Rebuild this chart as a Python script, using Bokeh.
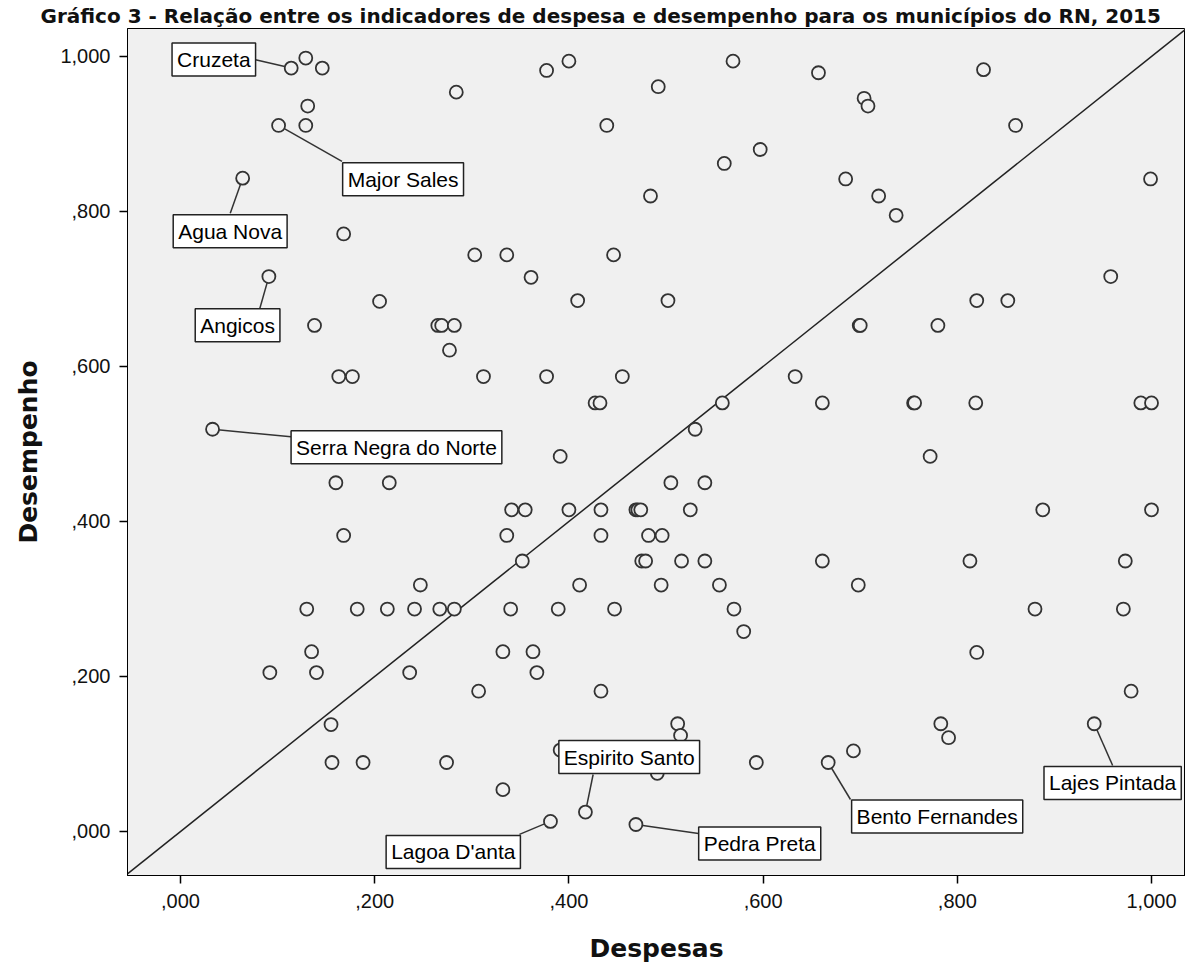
from bokeh.plotting import figure
from bokeh.models import Range1d, FixedTicker, Label
from bokeh.embed import file_html
from bokeh.resources import INLINE

# ---------------- data ----------------
title_text = "Gráfico 3 - Relação entre os indicadores de despesa e desempenho para os municípios do RN, 2015"
x_title = "Despesas"
y_title = "Desempenho"

tick_values = [0.0, 0.2, 0.4, 0.6, 0.8, 1.0]
tick_labels = [",000", ",200", ",400", ",600", ",800", "1,000"]

# unlabeled municipalities
despesas = [
    0.129, 0.146, 0.284, 0.131, 0.129, 0.168, 0.303, 0.336, 0.205, 0.138,
    0.265, 0.269, 0.282, 0.277, 0.163, 0.177, 0.312, 0.160, 0.215, 0.341,
    0.355, 0.168, 0.336, 0.352, 0.247, 0.130, 0.182, 0.213, 0.241, 0.267,
    0.282, 0.340, 0.135, 0.332, 0.092, 0.140, 0.236, 0.307, 0.155, 0.156,
    0.188, 0.274, 0.332,
    0.377, 0.400, 0.569, 0.657, 0.704, 0.708, 0.492, 0.439, 0.597, 0.560,
    0.685, 0.484, 0.719, 0.737, 0.446, 0.361, 0.409, 0.502, 0.699, 0.700,
    0.377, 0.455, 0.633, 0.427, 0.432, 0.558, 0.661, 0.530, 0.391, 0.505,
    0.540, 0.400, 0.433, 0.469, 0.471, 0.474, 0.525, 0.433, 0.482, 0.496,
    0.475, 0.479, 0.516, 0.540, 0.661, 0.411, 0.495, 0.555, 0.698, 0.389,
    0.447, 0.570, 0.580, 0.363, 0.367, 0.433, 0.512, 0.515, 0.391, 0.491,
    0.593, 0.693,
    0.827, 0.860, 0.999, 0.958, 0.820, 0.852, 0.780, 0.755, 0.756, 0.819,
    0.989, 1.000, 0.772, 0.888, 1.000, 0.813, 0.973, 0.880, 0.971, 0.820,
    0.979, 0.783, 0.791,
]
desempenho = [
    0.998, 0.985, 0.954, 0.936, 0.911, 0.771, 0.744, 0.744, 0.684, 0.653,
    0.653, 0.653, 0.653, 0.621, 0.587, 0.587, 0.587, 0.450, 0.450, 0.415,
    0.415, 0.382, 0.382, 0.349, 0.318, 0.287, 0.287, 0.287, 0.287, 0.287,
    0.287, 0.287, 0.232, 0.232, 0.205, 0.205, 0.205, 0.181, 0.138, 0.089,
    0.089, 0.089, 0.054,
    0.982, 0.994, 0.994, 0.979, 0.946, 0.936, 0.961, 0.911, 0.880, 0.862,
    0.842, 0.820, 0.820, 0.795, 0.744, 0.715, 0.685, 0.685, 0.653, 0.653,
    0.587, 0.587, 0.587, 0.553, 0.553, 0.553, 0.553, 0.519, 0.484, 0.450,
    0.450, 0.415, 0.415, 0.415, 0.415, 0.415, 0.415, 0.382, 0.382, 0.382,
    0.349, 0.349, 0.349, 0.349, 0.349, 0.318, 0.318, 0.318, 0.318, 0.287,
    0.287, 0.287, 0.258, 0.232, 0.205, 0.181, 0.139, 0.124, 0.105, 0.075,
    0.089, 0.104,
    0.983, 0.911, 0.842, 0.716, 0.685, 0.685, 0.653, 0.553, 0.553, 0.553,
    0.553, 0.553, 0.484, 0.415, 0.415, 0.349, 0.349, 0.287, 0.287, 0.231,
    0.181, 0.139, 0.121,
]

# labeled municipalities
label_names = ["Cruzeta", "Major Sales", "Agua Nova", "Angicos", "Serra Negra do Norte",
               "Espirito Santo", "Lagoa D'anta", "Pedra Preta", "Bento Fernandes", "Lajes Pintada"]
label_despesas = [0.114, 0.101, 0.064, 0.091, 0.033, 0.417, 0.381, 0.469, 0.667, 0.941]
label_desempenho = [0.985, 0.911, 0.843, 0.716, 0.519, 0.025, 0.013, 0.009, 0.089, 0.139]

# reference line y = x
diag = [-0.1, 1.1]

# ---------------- styling / layout ----------------
PX_X = 971.0   # pixels per unit on x
PX_Y = 775.0   # pixels per unit on y
FRAME_W = 1058
FRAME_H = 847
X0 = -0.0546
Y0 = -0.0568

# label box centre offsets and leader end offsets, in pixels (right, down)
box_dx = [-77.4, 124.5, -12.5, -31.3, 183.9, 43.8, -97.2, 123.8, 109.0, 18.4]
box_dy = [-8.5, 53.9, 53.0, 48.7, 18.0, -55.1, 30.5, 19.0, 54.0, 59.2]
lead_dx = [-35.7, 63.4, -12.4, -9.0, 78.4, 7.7, -31.0, 64.3, 22.3, 18.4]
lead_dy = [-8.3, 36.0, 35.0, 31.7, 7.6, -37.6, 13.0, 9.3, 37.0, 41.7]

BG = "#f0f0f0"
INK = "#333333"

p = figure(frame_width=FRAME_W, frame_height=FRAME_H,
           x_range=Range1d(X0, X0 + FRAME_W / PX_X),
           y_range=Range1d(Y0, Y0 + FRAME_H / PX_Y),
           output_backend="svg", toolbar_location=None, tools="",
           min_border_left=127, min_border_right=0, min_border_top=24,
           min_border_bottom=80)

p.title.text = title_text
p.title.text_font = "DejaVu Sans"
p.title.text_font_style = "bold"
p.title.text_font_size = "20px"
p.title.align = "left"
p.title.offset = -87
p.title.standoff = 2
p.title.text_color = "#111111"

p.background_fill_color = BG
p.border_fill_color = "white"
p.outline_line_color = "black"
p.outline_line_width = 1
p.grid.visible = False

for ax in (p.xaxis[0], p.yaxis[0]):
    ax.ticker = FixedTicker(ticks=tick_values)
    ax.major_label_overrides = dict(zip(tick_values, tick_labels))
    ax.major_label_text_font = "Liberation Sans"
    ax.major_label_text_font_size = "20px"
    ax.major_label_text_color = "#111111"
    ax.major_tick_in = 0
    ax.major_tick_out = 8
    ax.major_tick_line_width = 1.5
    ax.major_tick_line_color = "black"
    ax.minor_tick_line_color = None
    ax.axis_line_color = "black"
    ax.axis_line_width = 1
    ax.axis_label_text_font = "DejaVu Sans"
    ax.axis_label_text_font_style = "bold"
    ax.axis_label_text_font_size = "25px"
    ax.axis_label_text_color = "#111111"

p.xaxis.axis_label = x_title
p.yaxis.axis_label = y_title
p.xaxis.major_label_standoff = 10
p.xaxis.axis_label_standoff = 23
p.yaxis.major_label_standoff = 9
p.yaxis.axis_label_standoff = 14

# diagonal reference line
p.line(diag, diag, line_color="#222222", line_width=1.5)

# leader lines
lx0, ly0, lx1, ly1 = [], [], [], []
for xv, yv, dx, dy in zip(label_despesas, label_desempenho, lead_dx, lead_dy):
    lx0.append(xv); ly0.append(yv)
    lx1.append(xv + dx / PX_X); ly1.append(yv - dy / PX_Y)
p.segment(lx0, ly0, lx1, ly1, line_color=INK, line_width=1.5)

# points
all_x = despesas + label_despesas
all_y = desempenho + label_desempenho
p.scatter(all_x, all_y, marker="circle", size=13, fill_color=BG,
          line_color=INK, line_width=1.8)

# label boxes
for name, xv, yv, dx, dy in zip(label_names, label_despesas, label_desempenho, box_dx, box_dy):
    lab = Label(x=xv + dx / PX_X, y=yv - dy / PX_Y, text=name,
                text_align="center", text_baseline="middle",
                text_font="Liberation Sans", text_font_size="21px", text_color="black",
                background_fill_color="white", background_fill_alpha=1.0,
                border_line_color="#222222", border_line_width=1.5, padding=5)
    p.add_layout(lab)

open("out.html", "w").write(file_html(p, INLINE))
